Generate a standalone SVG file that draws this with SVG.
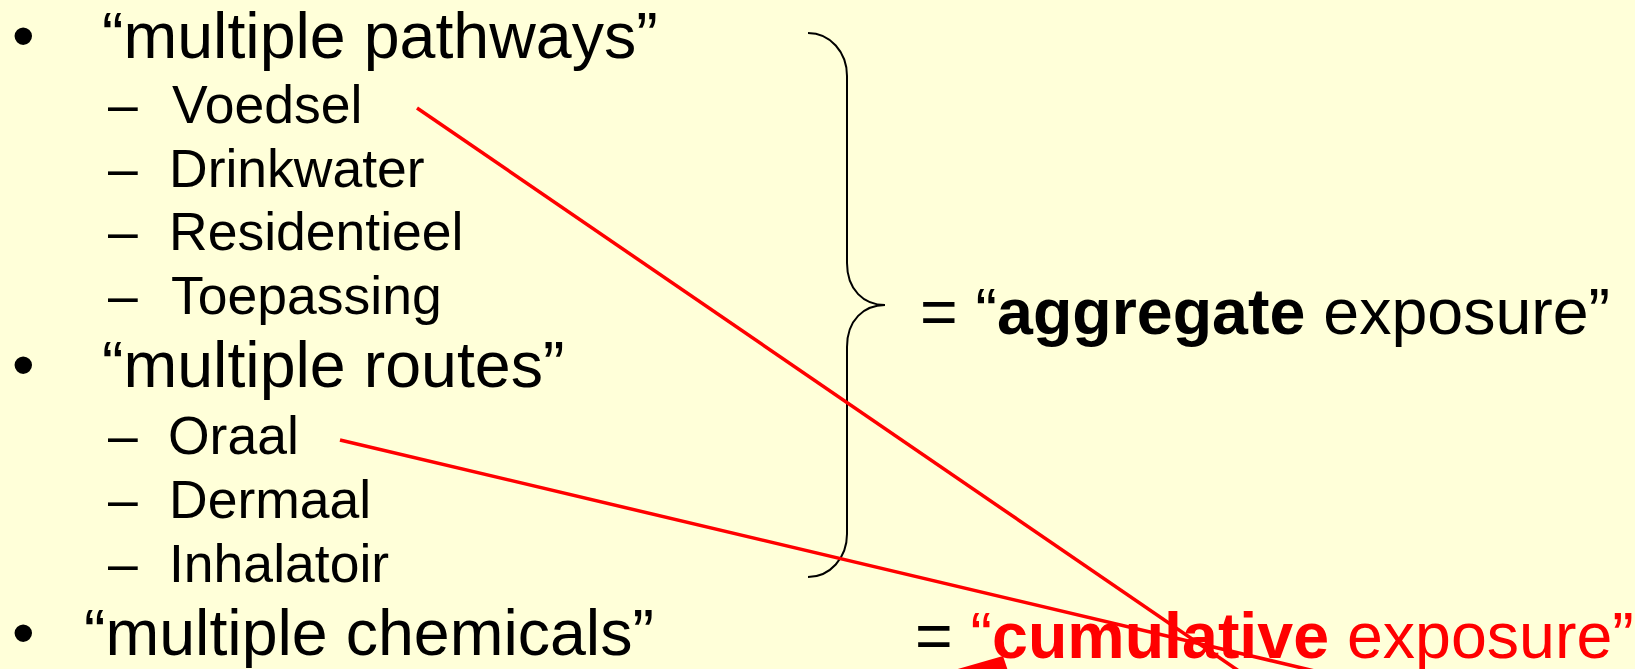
<svg xmlns="http://www.w3.org/2000/svg" width="1635" height="669" viewBox="0 0 1635 669">
<style>
text{font-family:"Liberation Sans",Arial,sans-serif;fill:#000}
.main{font-size:64.5px}
.sub{font-size:53.5px}
.b{font-weight:bold}
.red{fill:#FF0000}
.conn{stroke:#FF0000;stroke-width:3.5;fill:none}
</style>
<rect x="0" y="0" width="1635" height="669" fill="#FFFFD9"/>
<g id="pathways">
<text class="main" x="12" y="58">•</text>
<text class="main" x="102" y="58">“multiple pathways”</text>
</g>
<g id="voedsel"><text class="sub" x="108" y="123">–</text><text class="sub" x="172" y="123">Voedsel</text></g>
<g id="drinkwater"><text class="sub" x="108" y="187">–</text><text class="sub" x="169" y="187">Drinkwater</text></g>
<g id="residentieel"><text class="sub" x="108" y="250">–</text><text class="sub" x="169" y="250">Residentieel</text></g>
<g id="toepassing"><text class="sub" x="108" y="314">–</text><text class="sub" x="171" y="314">Toepassing</text></g>
<g id="routes">
<text class="main" x="12" y="387">•</text>
<text class="main" x="102" y="387">“multiple routes”</text>
</g>
<g id="oraal"><text class="sub" x="108" y="454">–</text><text class="sub" x="168" y="454">Oraal</text></g>
<g id="dermaal"><text class="sub" x="108" y="518">–</text><text class="sub" x="169" y="518">Dermaal</text></g>
<g id="inhalatoir"><text class="sub" x="108" y="582">–</text><text class="sub" x="169" y="582">Inhalatoir</text></g>
<g id="chemicals">
<text class="main" x="12" y="655">•</text>
<text class="main" x="84" y="655">“multiple chemicals”</text>
</g>
<g id="brace">
<path d="M808,33 C830,33 847,52 847,76 L847,263 C847,290 864,305 885,305 C864,305 847,320 847,347 L847,534 C847,558 830,577 808,577" fill="none" stroke="#000" stroke-width="2"/>
</g>
<g id="aggregate">
<text class="main" x="920" y="334">= “<tspan class="b">aggregate</tspan> exposure”</text>
</g>
<g id="cumulative">
<text class="main" x="915" y="658">= <tspan class="red">“</tspan><tspan class="red b">cumulative</tspan><tspan class="red"> exposure”</tspan></text>
</g>
<g id="connectors">
<line class="conn" x1="417" y1="108" x2="1252" y2="680"/>
<line class="conn" x1="340" y1="440" x2="1340" y2="677"/>
<polygon points="1003,656 930,677 1010,677" fill="#FF0000"/>
</g>
</svg>
